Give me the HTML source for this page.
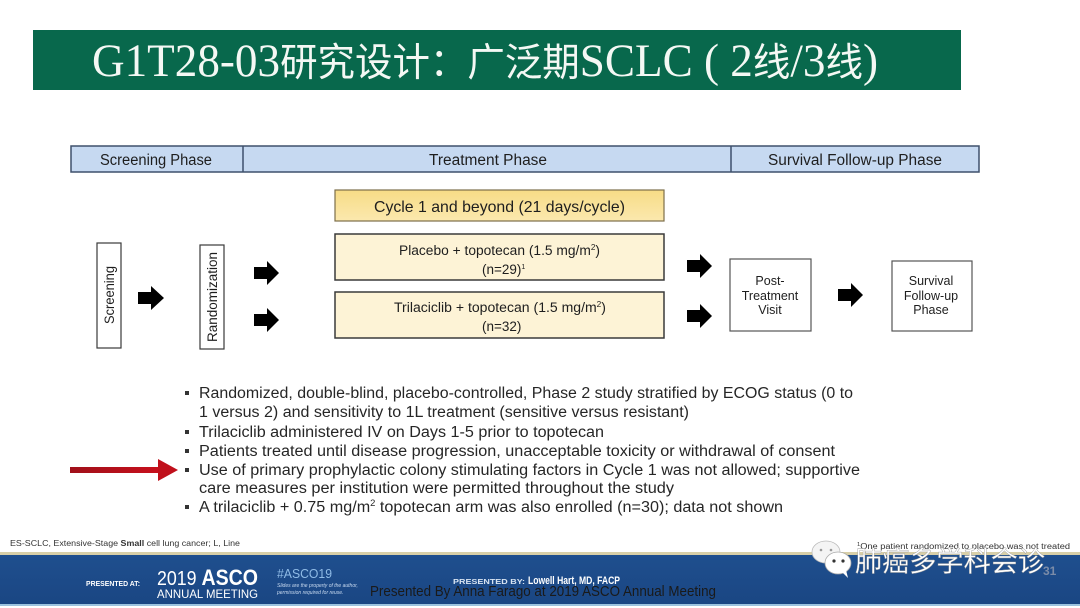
<!DOCTYPE html>
<html><head><meta charset="utf-8"><style>
html,body{margin:0;padding:0;background:#fff;}
svg{display:block;}
</style></head><body>
<svg width="1080" height="608" viewBox="0 0 1080 608" xmlns="http://www.w3.org/2000/svg">
<defs>
<linearGradient id="gold" x1="0" y1="0" x2="0" y2="1"><stop offset="0" stop-color="#f7dc86"/><stop offset="1" stop-color="#fbe8ae"/></linearGradient>
<linearGradient id="red" x1="0" y1="0" x2="1" y2="0"><stop offset="0" stop-color="#a0101a"/><stop offset="1" stop-color="#c8101c"/></linearGradient>
<linearGradient id="ban" x1="0" y1="0" x2="0" y2="1"><stop offset="0" stop-color="#1f4f8e"/><stop offset="1" stop-color="#1a4683"/></linearGradient>
</defs>
<rect width="1080" height="608" fill="#fff"/>

<!-- Title bar -->
<rect x="33" y="30" width="928" height="60" fill="#08684c"/>
<text x="92" y="76" fill="#f4f8f4" font-family="Liberation Serif, Noto Serif CJK SC, serif" font-size="47" textLength="786" lengthAdjust="spacingAndGlyphs"><tspan>G1T28-03</tspan><tspan font-family="Noto Sans CJK SC, sans-serif" font-size="39">研究设计：广泛期</tspan><tspan>SCLC ( 2</tspan><tspan font-family="Noto Sans CJK SC, sans-serif" font-size="39">线</tspan><tspan>/3</tspan><tspan font-family="Noto Sans CJK SC, sans-serif" font-size="39">线</tspan><tspan>)</tspan></text>

<!-- Phase bar -->
<rect x="71" y="146" width="908" height="26" fill="#c6d9f1" stroke="#3f506c" stroke-width="1.5"/>
<line x1="243" y1="146" x2="243" y2="172" stroke="#3f506c" stroke-width="1.5"/>
<line x1="731" y1="146" x2="731" y2="172" stroke="#3f506c" stroke-width="1.5"/>
<g font-family="Liberation Sans, sans-serif" font-size="15.5" fill="#1e1e1e">
<text x="100" y="165" textLength="112" lengthAdjust="spacingAndGlyphs">Screening Phase</text>
<text x="429" y="165" textLength="118" lengthAdjust="spacingAndGlyphs">Treatment Phase</text>
<text x="768" y="165" textLength="174" lengthAdjust="spacingAndGlyphs">Survival Follow-up Phase</text>
</g>

<!-- Cycle box -->
<rect x="335" y="190" width="329" height="31" fill="url(#gold)" stroke="#7d6f4a" stroke-width="1.2"/>
<text x="374" y="212" font-family="Liberation Sans, sans-serif" font-size="16" fill="#1e1e1e" textLength="251" lengthAdjust="spacingAndGlyphs">Cycle 1 and beyond (21 days/cycle)</text>

<!-- Arm boxes -->
<rect x="335" y="234" width="329" height="46" fill="#fdf3d6" stroke="#3a3a3a" stroke-width="1.5"/>
<rect x="335" y="292" width="329" height="46" fill="#fdf3d6" stroke="#3a3a3a" stroke-width="1.5"/>
<g font-family="Liberation Sans, sans-serif" font-size="13.5" fill="#1e1e1e">
<text x="399" y="255" textLength="201" lengthAdjust="spacingAndGlyphs">Placebo + topotecan (1.5 mg/m<tspan font-size="8" dy="-5">2</tspan><tspan dy="5">)</tspan></text>
<text x="482" y="274">(n=29)<tspan font-size="7" dy="-5">1</tspan></text>
<text x="394" y="312" textLength="212" lengthAdjust="spacingAndGlyphs">Trilaciclib + topotecan (1.5 mg/m<tspan font-size="8" dy="-5">2</tspan><tspan dy="5">)</tspan></text>
<text x="482" y="331">(n=32)</text>
</g>

<!-- Vertical boxes -->
<rect x="97" y="243" width="24" height="105" fill="#fff" stroke="#3a3a3a" stroke-width="1.2"/>
<rect x="200" y="245" width="24" height="104" fill="#fff" stroke="#3a3a3a" stroke-width="1.2"/>
<g font-family="Liberation Sans, sans-serif" font-size="13.5" fill="#1e1e1e">
<text transform="translate(114,324) rotate(-90)" textLength="58" lengthAdjust="spacingAndGlyphs">Screening</text>
<text transform="translate(217,342) rotate(-90)" textLength="90" lengthAdjust="spacingAndGlyphs">Randomization</text>
</g>

<!-- Post / survival boxes -->
<rect x="730" y="259" width="81" height="72" fill="#fff" stroke="#555" stroke-width="1.2"/>
<rect x="892" y="261" width="80" height="70" fill="#fff" stroke="#555" stroke-width="1.2"/>
<g font-family="Liberation Sans, sans-serif" font-size="12.5" fill="#1e1e1e" text-anchor="middle">
<text x="770" y="285">Post-</text>
<text x="770" y="300">Treatment</text>
<text x="770" y="314">Visit</text>
<text x="931" y="285">Survival</text>
<text x="931" y="300">Follow-up</text>
<text x="931" y="314">Phase</text>
</g>

<!-- Black arrows -->
<g fill="#000">
<polygon points="138,292 151,292 151,286 164,298 151,310 151,304 138,304"/>
<polygon points="254,267 267,267 267,261 279,273 267,285 267,279 254,279"/>
<polygon points="254,314 267,314 267,308 279,320 267,332 267,326 254,326"/>
<polygon points="687,260 700,260 700,254 712,266 700,278 700,272 687,272"/>
<polygon points="687,310 700,310 700,304 712,316 700,328 700,322 687,322"/>
<polygon points="838,289 851,289 851,283 863,295 851,307 851,301 838,301"/>
</g>

<!-- Bullets -->
<g fill="#333">
<rect x="185" y="391" width="4" height="4"/>
<rect x="185" y="430" width="4" height="4"/>
<rect x="185" y="449" width="4" height="4"/>
<rect x="185" y="468" width="4" height="4"/>
<rect x="185" y="505" width="4" height="4"/>
</g>
<g font-family="Liberation Sans, sans-serif" font-size="15.5" fill="#262626">
<text x="199" y="398" textLength="654" lengthAdjust="spacingAndGlyphs">Randomized, double-blind, placebo-controlled, Phase 2 study stratified by ECOG status (0 to</text>
<text x="199" y="417" textLength="490" lengthAdjust="spacingAndGlyphs">1 versus 2) and sensitivity to 1L treatment (sensitive versus resistant)</text>
<text x="199" y="437" textLength="405" lengthAdjust="spacingAndGlyphs">Trilaciclib administered IV on Days 1-5 prior to topotecan</text>
<text x="199" y="456" textLength="636" lengthAdjust="spacingAndGlyphs">Patients treated until disease progression, unacceptable toxicity or withdrawal of consent</text>
<text x="199" y="475" textLength="661" lengthAdjust="spacingAndGlyphs">Use of primary prophylactic colony stimulating factors in Cycle 1 was not allowed; supportive</text>
<text x="199" y="493" textLength="475" lengthAdjust="spacingAndGlyphs">care measures per institution were permitted throughout the study</text>
<text x="199" y="512" textLength="584" lengthAdjust="spacingAndGlyphs">A trilaciclib + 0.75 mg/m<tspan font-size="9" dy="-6">2</tspan><tspan dy="6"> topotecan arm was also enrolled (n=30); data not shown</tspan></text>
</g>

<!-- Red arrow -->
<rect x="70" y="467" width="90" height="6" fill="url(#red)"/>
<polygon points="158,459 178,470 158,481" fill="#c0101b"/>

<!-- Footnote -->
<text x="10" y="546" font-family="Liberation Sans, sans-serif" font-size="8.5" fill="#333" textLength="230" lengthAdjust="spacingAndGlyphs">ES-SCLC, Extensive-Stage <tspan font-weight="bold">Small</tspan> cell lung cancer; L, Line</text>
<text x="857" y="549" font-family="Liberation Sans, sans-serif" font-size="8" fill="#333" textLength="213" lengthAdjust="spacingAndGlyphs"><tspan font-size="5" dy="-3">1</tspan><tspan dy="3">One patient randomized to placebo was not treated</tspan></text>

<!-- Banner -->
<rect x="0" y="552" width="1080" height="3" fill="#d8cfa8"/>
<rect x="0" y="555" width="1080" height="49" fill="url(#ban)"/>
<rect x="0" y="604" width="1080" height="2" fill="#9cc3df"/>
<g font-family="Liberation Sans, sans-serif" fill="#fff">
<text x="86" y="586" font-size="7.5" font-weight="bold" textLength="54" lengthAdjust="spacingAndGlyphs">PRESENTED AT:</text>
<text x="157" y="585" font-size="20" textLength="101" lengthAdjust="spacingAndGlyphs">2019 <tspan font-weight="bold" font-size="22">ASCO</tspan></text>
<text x="157" y="598" font-size="12" textLength="101" lengthAdjust="spacingAndGlyphs">ANNUAL MEETING</text>
<text x="277" y="578" font-size="12.5" fill="#8fbbe6" textLength="55" lengthAdjust="spacingAndGlyphs">#ASCO19</text>
<text x="277" y="587" font-size="5" font-style="italic" fill="#c8daf0">Slides are the property of the author,</text>
<text x="277" y="594" font-size="5" font-style="italic" fill="#c8daf0">permission required for reuse.</text>
<text x="453" y="584" font-size="7" font-weight="bold" fill="#d8e4f2" textLength="72" lengthAdjust="spacingAndGlyphs">PRESENTED BY:</text>
<text x="528" y="584" font-size="11" font-weight="bold" textLength="92" lengthAdjust="spacingAndGlyphs">Lowell Hart, MD, FACP</text>
</g>
<text x="370" y="596" font-family="Liberation Sans, sans-serif" font-size="14.5" fill="#1a1a1a" textLength="346" lengthAdjust="spacingAndGlyphs">Presented By Anna Farago at 2019 ASCO Annual Meeting</text>
<text x="1043" y="575" font-family="Liberation Sans, sans-serif" font-size="12" font-weight="bold" fill="#7b8ca8">31</text>

<!-- Watermark -->
<g>
<ellipse cx="826" cy="552" rx="14" ry="11" fill="#f4f4f4" stroke="#bbb" stroke-width="0.8"/>
<circle cx="821" cy="550" r="1.3" fill="#999"/>
<circle cx="831" cy="550" r="1.3" fill="#999"/>
<ellipse cx="838" cy="563" rx="13" ry="11" fill="#ffffff" stroke="#aaa" stroke-width="0.8"/>
<polygon points="842,572 848,578 846,570" fill="#fff"/>
<circle cx="834" cy="561" r="1.6" fill="#333"/>
<circle cx="843" cy="561" r="1.6" fill="#333"/>
</g>
<text x="855" y="571" font-family="Noto Sans CJK SC, WenQuanYi Zen Hei, sans-serif" font-size="28" fill="#fff" stroke="#9a9a9a" stroke-width="0.4" textLength="190" lengthAdjust="spacingAndGlyphs">肺癌多学科会诊</text>
</svg>
</body></html>
